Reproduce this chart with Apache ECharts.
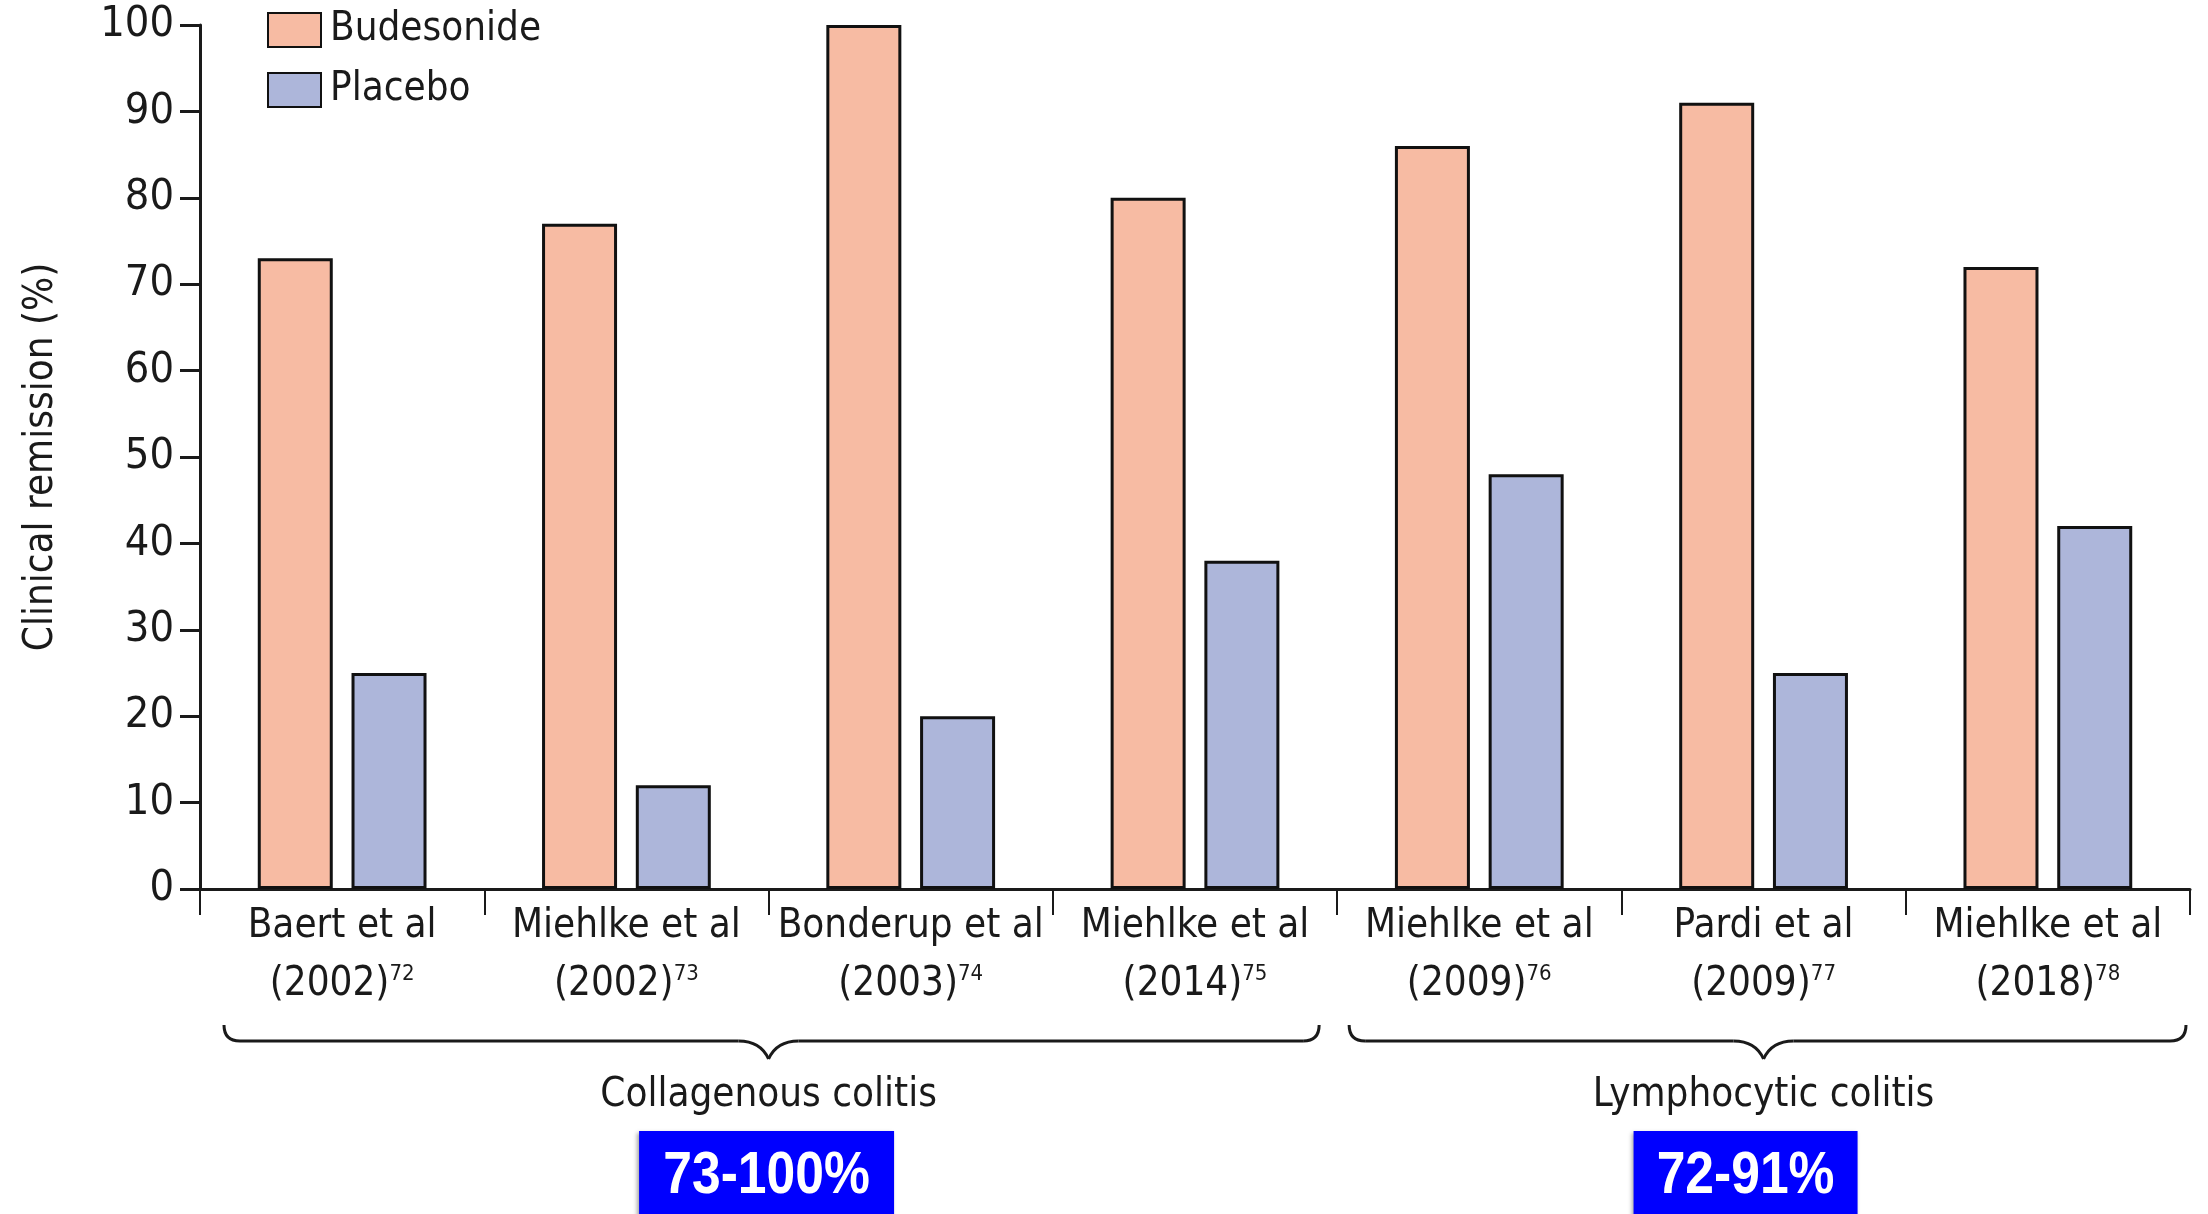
<!DOCTYPE html>
<html>
<head>
<meta charset="utf-8">
<script src="https://cdn.jsdelivr.net/npm/echarts@6/dist/echarts.min.js"></script>
<style>
html,body{margin:0;padding:0;background:#fff;}
#c{width:2208px;height:1214px;}
</style>
</head>
<body>
<div id="c"></div>
<script>
const studyNames = ['Baert et al', 'Miehlke et al', 'Bonderup et al', 'Miehlke et al', 'Miehlke et al', 'Pardi et al', 'Miehlke et al'];
const studyYears = ['2002', '2002', '2003', '2014', '2009', '2009', '2018'];
const studyRefs = ['72', '73', '74', '75', '76', '77', '78'];
const categories = studyNames.map((n, i) => n + ' (' + studyYears[i] + ')');
const budesonide = [73, 77, 100, 80, 86, 91, 72];
const placebo = [25, 12, 20, 38, 48, 25, 42];
const yTicks = [0, 10, 20, 30, 40, 50, 60, 70, 80, 90, 100];
const groupNames = ['Collagenous colitis', 'Lymphocytic colitis'];
const groupFrom = [0, 4];
const groupTo = [3, 6];
const groupRanges = ['73-100%', '72-91%'];

const FONT = '"Liberation Sans Narrow", "DejaVu Sans Condensed", "Roboto Condensed", "Liberation Sans", sans-serif';
const INK = '#1a1a1a';
const chart = echarts.init(document.getElementById('c'));

const option = {
  animation: false,
  backgroundColor: '#ffffff',
  textStyle: { fontFamily: FONT, color: INK },
  legend: {
    orient: 'vertical',
    left: 262,
    top: 5,
    icon: 'rect',
    itemWidth: 53,
    itemHeight: 34,
    itemGap: 20,
    textStyle: { fontFamily: FONT, fontSize: 40, color: INK, padding: [0, 0, 0, 4] },
    data: ['Budesonide', 'Placebo']
  },
  grid: { left: 200, right: 18, top: 25, bottom: 325, containLabel: false },
  xAxis: {
    type: 'category',
    data: categories,
    axisLine: { lineStyle: { color: INK, width: 3 } },
    axisTick: { show: true, length: 26, alignWithLabel: false, lineStyle: { color: INK, width: 2 } },
    axisLabel: {
      interval: 0,
      margin: 9,
      formatter: function (v, i) {
        return '{n|' + studyNames[i] + '}\n{y|(' + studyYears[i] + ')}{s|' + studyRefs[i] + '}';
      },
      rich: {
        n: { fontFamily: FONT, fontSize: 40, color: INK, lineHeight: 58 },
        y: { fontFamily: FONT, fontSize: 40, color: INK, lineHeight: 58 },
        s: { fontFamily: FONT, fontSize: 22, color: INK, lineHeight: 58, padding: [0, 0, 22, 0] }
      }
    }
  },
  yAxis: {
    type: 'value',
    min: 0,
    max: 100,
    interval: 10,
    name: 'Clinical remission (%)',
    nameLocation: 'middle',
    nameRotate: 90,
    nameGap: 138,
    nameTextStyle: { fontFamily: FONT, fontSize: 40, color: INK },
    axisLine: { show: true, lineStyle: { color: INK, width: 3 } },
    axisTick: { show: true, length: 20, lineStyle: { color: INK, width: 3 } },
    splitLine: { show: false },
    axisLabel: {
      margin: 26,
      fontFamily: FONT,
      fontSize: 43,
      color: INK,
      formatter: function (v) { return yTicks.indexOf(v) >= 0 ? String(v) : ''; }
    }
  },
  series: [
    {
      name: 'Budesonide',
      type: 'bar',
      data: budesonide,
      barWidth: 75,
      barGap: '25%',
      itemStyle: { color: '#F7BBA3', borderColor: '#111', borderWidth: 3 }
    },
    {
      name: 'Placebo',
      type: 'bar',
      data: placebo,
      barWidth: 75,
      barGap: '25%',
      itemStyle: { color: '#ADB6DA', borderColor: '#111', borderWidth: 3 }
    }
  ]
};
chart.setOption(option);

function braceElements(x1, x2, xm, yTop, yLine, yTip) {
  const r = 16, r2 = 30;
  const st = { fill: null, stroke: INK, lineWidth: 3 };
  return [
    { type: 'bezierCurve', shape: { x1: x1, y1: yTop, cpx1: x1, cpy1: yLine, x2: x1 + r, y2: yLine }, style: st },
    { type: 'line', shape: { x1: x1 + r, y1: yLine, x2: xm - r2, y2: yLine }, style: st },
    { type: 'bezierCurve', shape: { x1: xm - r2, y1: yLine, cpx1: xm - 8, cpy1: yLine, x2: xm, y2: yTip }, style: st },
    { type: 'bezierCurve', shape: { x1: xm, y1: yTip, cpx1: xm + 8, cpy1: yLine, x2: xm + r2, y2: yLine }, style: st },
    { type: 'line', shape: { x1: xm + r2, y1: yLine, x2: x2 - r, y2: yLine }, style: st },
    { type: 'bezierCurve', shape: { x1: x2 - r, y1: yLine, cpx1: x2, cpy1: yLine, x2: x2, y2: yTop }, style: st }
  ];
}

function drawGroups() {
  const p0 = chart.convertToPixel({ xAxisIndex: 0 }, 0);
  const p1 = chart.convertToPixel({ xAxisIndex: 0 }, 1);
  const band = p1 - p0;
  let elements = [];
  groupNames.forEach(function (name, gi) {
    const left = chart.convertToPixel({ xAxisIndex: 0 }, groupFrom[gi]) - band / 2;
    const right = chart.convertToPixel({ xAxisIndex: 0 }, groupTo[gi]) + band / 2;
    const x1 = left + (gi === 0 ? 24 : 12);
    const x2 = right - (gi === 0 ? 18 : 4);
    const xm = (left + right) / 2;
    elements = elements.concat(braceElements(x1, x2, xm, 1025, 1041, 1059));
    elements.push({
      type: 'text',
      x: xm, y: 1096,
      style: { text: name, fontFamily: FONT, fontSize: 40, fill: INK, align: 'center', verticalAlign: 'middle' }
    });
    const bw = gi === 0 ? 255 : 224;
    const bx = gi === 0 ? xm - 2 - bw / 2 : xm - 18 - bw / 2;
    elements.push({
      type: 'rect',
      shape: { x: bx, y: 1131, width: bw, height: 90 },
      style: { fill: '#0000FF', shadowColor: 'rgba(0,0,0,0.35)', shadowBlur: 4, shadowOffsetX: -2, shadowOffsetY: 2 }
    });
    elements.push({
      type: 'text',
      x: bx + bw / 2, y: 1176,
      scaleX: 0.86,
      style: { text: groupRanges[gi], fontFamily: '"Liberation Sans", Arial, sans-serif', fontWeight: 'bold', fontSize: 60, fill: '#ffffff', align: 'center', verticalAlign: 'middle' }
    });
  });
  chart.setOption({ graphic: { elements: elements } });
}
drawGroups();
</script>
</body>
</html>
